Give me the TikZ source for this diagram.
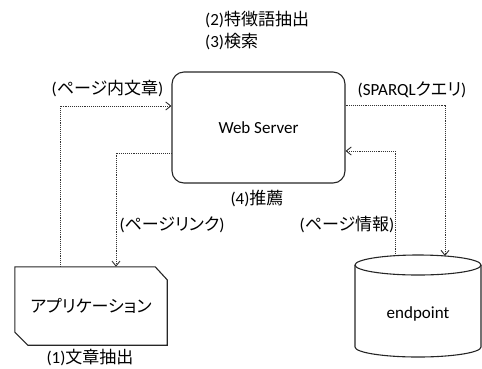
\documentclass[tikz,border=0pt]{standalone}
\usepackage{fontspec}
\setmainfont{Carlito}
\newfontfamily\jp{Noto Sans CJK JP}[RawFeature=+palt]
\usetikzlibrary{arrows.meta}
\begin{document}
\begin{tikzpicture}[x=1pt,y=-1pt,
  lbl/.style={inner sep=0pt,font=\fontsize{17}{20}\selectfont},
  box/.style={draw=black!85,line width=1.1pt},
  conn/.style={draw=black!80,line width=0.9pt,densely dotted,
    -{Straight Barb[length=5pt,width=8pt,line width=0.9pt]}}]
\useasboundingbox (0,0) rectangle (482,368);

% guide coordinates for the connector legs
\coordinate (g1) at (60,0);
\coordinate (g2) at (0,106);
\coordinate (g3) at (0,153);
\coordinate (g4) at (116,0);
\coordinate (g5) at (0,105);
\coordinate (g6) at (0,151);

% web server
\node[box,lbl,rounded corners=12pt,minimum width=173pt,minimum height=111pt] (ws) at (258.5,127.5) {Web Server};

% application (chamfered box)
\node[lbl,minimum width=152pt,minimum height=78pt] (app) at (91,306) {\jp アプリケーション};
\draw[box] (app.north west) -- ([xshift=-12pt]app.north east) -- ([yshift=-13pt]app.north east)
  -- (app.south east) -- ([xshift=13pt]app.south west) -- ([yshift=13pt]app.south west) -- cycle;

% endpoint (cylinder)
\node[lbl] (ep) at (418,314) {endpoint};
\draw[box] (418,265) ellipse [x radius=63, y radius=10];
\draw[box] (355,265) -- (355,347) arc [start angle=180, end angle=0, x radius=63, y radius=10] -- (481,265);
\coordinate (epA) at (445,256);
\coordinate (epB) at (395,256);

% connectors
\draw[conn] (app.north -| g1) |- (ws.west |- g2);
\draw[conn] (ws.west |- g3) -| (app.north -| g4);
\draw[conn] (ws.east |- g5) -| (epA);
\draw[conn] (epB) |- (ws.east |- g6);

% labels
\node[lbl,anchor=west] (t2) at (205,20) {(2){\jp 特徴語抽出}};
\node[lbl,anchor=west] (t3) at (205,42) {(3){\jp 検索}};
\node[lbl] (l1) at (107.5,89) {({\jp ページ内文章})};
\node[lbl] (l2) at (412,90) {(SPARQL{\jp クエリ})};
\node[lbl] (l3) at (257,199) {(4){\jp 推薦}};
\node[lbl] (l4) at (172,225) {({\jp ページリンク})};
\node[lbl] (l5) at (347,225) {({\jp ページ情報})};
\node[lbl] (l6) at (90,358) {(1){\jp 文章抽出}};
\end{tikzpicture}
\end{document}
